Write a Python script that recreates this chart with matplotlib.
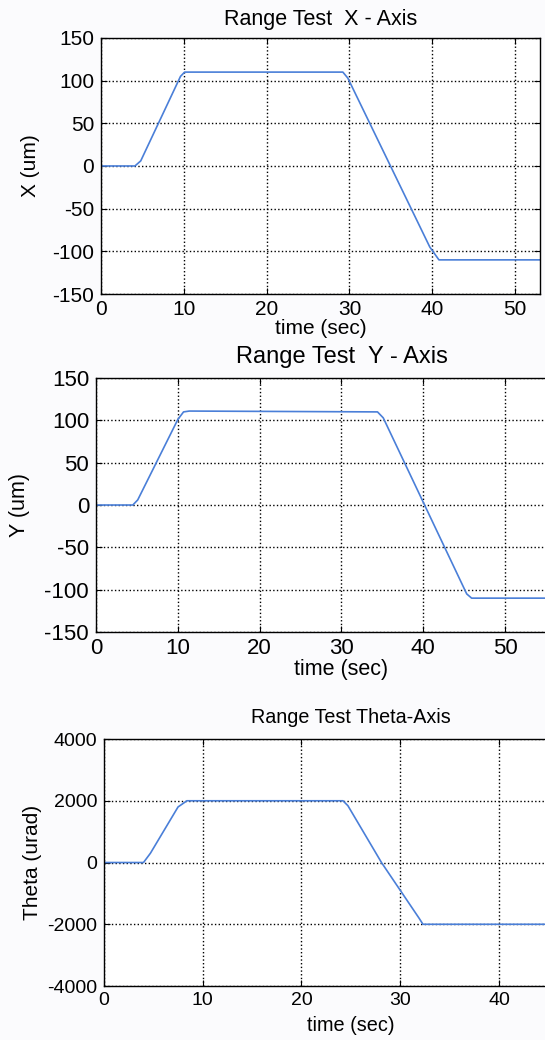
import numpy as np
import matplotlib
matplotlib.use("Agg")
import matplotlib.pyplot as plt

## values (breakpoints of each trace)
x_time = [0, 4.1, 4.8, 9.6, 10.1, 29.2, 29.8, 39.7, 40.8, 53]
x_pos = [0, 0, 6, 105, 110, 110, 103, -95, -110, -110]

y_time = [0, 4.5, 5.1, 10.0, 10.7, 11.4, 34.4, 35.1, 45.3, 45.9, 60]
y_pos = [0, 0, 6, 101, 110, 111, 110, 103, -105, -110, -110]

t_time = [0, 4.0, 4.7, 7.5, 8.4, 24.2, 24.7, 28.1, 31.9, 32.3, 50]
t_pos = [0, 0, 300, 1800, 2000, 2000, 1840, 0, -1800, -2000, -2000]

titles = ["Range Test  X - Axis", "Range Test  Y - Axis", "Range Test Theta-Axis"]
ylabels = ["X (um)", "Y (um)", "Theta (urad)"]

plt.rcParams['font.family'] = ['Liberation Sans', 'DejaVu Sans']
plt.rcParams['axes.unicode_minus'] = False
blue = '#4a7fd8'

fig = plt.figure(figsize=(5.45, 10.4), dpi=100, facecolor='#fbfbfd')

## axes boxes in figure fractions
ax1 = fig.add_axes([0.1853, 0.7173, 0.8055, 0.2462])
ax2 = fig.add_axes([0.1761, 0.3923, 0.901, 0.2442])
ax3 = fig.add_axes([0.1908, 0.0519, 0.906, 0.2375])

def style(ax, title, ylabel, tfs, ttl, yfs, xfs, pad, ylx, xly):
    ax.grid(True, linestyle=':', color='black', linewidth=1.0)
    ax.tick_params(direction='in', top=True, right=True, labelsize=tfs, length=4)
    ax.tick_params(axis='y', pad=5)
    ax.tick_params(axis='x', pad=4)
    ax.set_title(title, fontsize=ttl, pad=pad)
    ax.set_ylabel(ylabel, fontsize=yfs)
    ax.set_xlabel("time (sec)", fontsize=xfs)
    ax.yaxis.set_label_coords(ylx, 0.5)
    ax.xaxis.set_label_coords(0.5, xly)
    for s in ax.spines.values():
        s.set_linewidth(1.0)

ax1.plot(x_time, x_pos, color=blue, linewidth=1.2)
ax1.set_xlim(0, 53)
ax1.set_ylim(-150, 150)
ax1.set_xticks([0, 10, 20, 30, 40, 50])
ax1.set_yticks(np.arange(-150, 151, 50))
style(ax1, titles[0], ylabels[0], 15, 15.5, 15, 15, 9, -0.139, -0.097)

ax2.plot(y_time, y_pos, color=blue, linewidth=1.2)
ax2.set_xlim(0, 60)
ax2.set_ylim(-150, 150)
ax2.set_xticks([0, 10, 20, 30, 40, 50])
ax2.set_yticks(np.arange(-150, 151, 50))
style(ax2, titles[1], ylabels[1], 16, 17, 15.5, 15.5, 10.5, -0.134, -0.108)

ax3.plot(t_time, t_pos, color=blue, linewidth=1.2)
ax3.set_xlim(0, 50)
ax3.set_ylim(-4000, 4000)
ax3.set_xticks([0, 10, 20, 30, 40])
ax3.set_yticks([-4000, -2000, 0, 2000, 4000])
style(ax3, titles[2], ylabels[2], 14, 14.2, 15, 14.3, 11.5, -0.125, -0.12)

fig.savefig("out.png", dpi=100, facecolor=fig.get_facecolor())
